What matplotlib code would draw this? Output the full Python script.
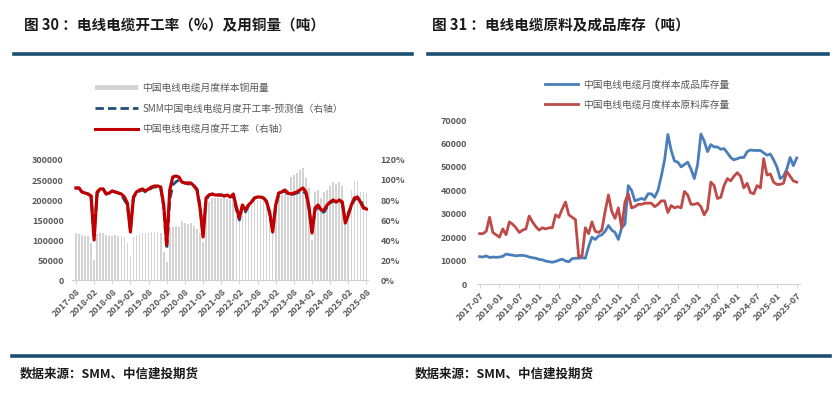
import matplotlib
matplotlib.use("Agg")
import matplotlib.pyplot as plt
from matplotlib.lines import Line2D
from matplotlib.patches import Patch
import numpy as np

plt.rcParams['font.family'] = ['Noto Sans CJK SC', 'DejaVu Sans']

# ---------------- Data: Figure 30 ----------------
months_30 = ["2017-08", "2018-02", "2018-08", "2019-02", "2019-08", "2020-02", "2020-08",
             "2021-02", "2021-08", "2022-02", "2022-08", "2023-02", "2023-08", "2024-02",
             "2024-08", "2025-02", "2025-08"]
copper_use = [117000, 115000, 112000, 110000, 110000, 93000, 50000, 115000, 118000, 118000,
              112000, 110000, 110000, 112000, 110000, 110000, 108000, 92000, 60000, 108000,
              112000, 118000, 117000, 118000, 118000, 120000, 120000, 120000, 118000, 70000,
              45000, 130000, 133000, 135000, 132000, 148000, 143000, 140000, 142000, 135000,
              128000, 118000, 95000, 185000, 195000, 205000, 205000, 205000, 205000, 205000,
              203000, 200000, 200000, 185000, 160000, 185000, 180000, 190000, 195000, 200000,
              200000, 200000, 198000, 190000, 165000, 120000, 185000, 210000, 212000, 215000,
              225000, 258000, 262000, 267000, 275000, 279000, 254000, 229000, 100000, 220000,
              225000, 205000, 220000, 225000, 235000, 245000, 240000, 245000, 235000, 140000,
              175000, 225000, 248000, 248000, 220000, 220000, 218000]
op_rate = [92, 92, 88, 87, 86, 84, 40, 88, 91, 91, 86, 87, 89, 88, 87, 86, 83, 77, 48, 83,
           88, 90, 91, 89, 91, 93, 94, 94, 93, 75, 35, 90, 103, 104, 103, 98, 97, 97, 97, 94,
           90, 72, 43, 82, 85, 86, 85, 85, 85, 84, 85, 83, 86, 73, 62, 75, 70, 75, 78, 82,
           83, 83, 82, 78, 68, 48, 75, 87, 88, 90, 87, 86, 87, 88, 90, 92, 88, 73, 47, 72,
           75, 70, 70, 75, 78, 80, 78, 80, 78, 57, 65, 75, 82, 83, 78, 72, 71]
op_rate_pred = [92, 92, 88, 87, 86, 84, 42, 87, 90, 91, 86, 87, 89, 88, 87, 85, 80, 75, 50, 82,
                87, 89, 90, 88, 90, 92, 93, 93, 92, 73, 31, 80, 95, 98, 100, 98, 97, 96, 96, 94,
                91, 74, 45, 80, 85, 86, 85, 85, 85, 84, 85, 83, 84, 70, 60, 74, 68, 74, 78, 82,
                83, 83, 82, 79, 66, 50, 73, 86, 88, 89, 86, 85, 86, 87, 88, 89, 86, 71, 48, 70,
                73, 68, 68, 73, 77, 79, 78, 79, 77, 60, 67, 74, 80, 82, 80, 73, 71]

# ---------------- Data: Figure 31 ----------------
months_31 = ["2017-07", "2018-01", "2018-07", "2019-01", "2019-07", "2020-01", "2020-07",
             "2021-01", "2021-07", "2022-01", "2022-07", "2023-01", "2023-07", "2024-01",
             "2024-07", "2025-01", "2025-07"]
finished_inv = [11700, 11500, 12000, 11300, 11500, 11400, 11500, 11800, 12800, 12500, 12300,
                12000, 12200, 12200, 12000, 11500, 11200, 11000, 10500, 10300, 9800, 9500,
                9300, 9600, 10200, 10600, 9800, 9500, 10800, 11000, 11000, 11200, 11000,
                16000, 20000, 19000, 20500, 21000, 22500, 25000, 23000, 22000, 19000, 24000,
                25500, 42000, 40000, 35500, 36000, 36500, 36000, 38500, 38500, 37000, 40000,
                46000, 53000, 63800, 57000, 52500, 52000, 50000, 51000, 52000, 49000, 45000,
                51000, 64000, 61000, 56500, 59500, 58500, 58500, 57500, 57800, 56000, 54000,
                53000, 53500, 54000, 54000, 56500, 57200, 57000, 57000, 57000, 56000, 55000,
                55500, 53000, 50000, 45000, 46000, 49000, 54000, 50500, 53800]
raw_inv = [21500, 21500, 22500, 28500, 22000, 21000, 20000, 23500, 21000, 26500, 25500, 24000,
           22000, 23000, 23500, 29000, 26500, 24500, 23000, 24000, 23500, 24000, 24000, 29500,
           28500, 32000, 35000, 29500, 28500, 27500, 11500, 12000, 24000, 21500, 26500, 22500,
           22000, 23000, 31000, 38000, 31000, 28000, 32500, 24000, 35000, 38500, 32500, 33000,
           34000, 34000, 34500, 34500, 34500, 33000, 34000, 35500, 35500, 30500, 33500, 32500,
           33000, 32500, 39500, 38000, 34000, 34000, 34500, 33000, 29500, 32000, 43500, 42000,
           36500, 37000, 42000, 45000, 44000, 46000, 47500, 46000, 41000, 43000, 39000, 38500,
           42000, 41000, 53500, 46500, 47000, 43500, 42500, 42500, 43000, 48000, 46000, 44000,
           43500]

W, H = 840, 395
fig = plt.figure(figsize=(W / 100, H / 100), dpi=100)

def fx(px):
    return px / W

def fy(py):
    return 1 - py / H

GRAY_TXT = '#595959'
NAVY = '#1b4f72'

# Titles and header lines
fig.text(fx(24), fy(25), "图 30 ：电线电缆开工率（%）及用铜量（吨）", fontsize=10.5,
         fontweight='bold', va='center', ha='left', color='#1a1a1a')
fig.text(fx(432), fy(25), "图 31 ：电线电缆原料及成品库存（吨）", fontsize=10.5,
         fontweight='bold', va='center', ha='left', color='#1a1a1a')
fig.add_artist(Line2D([fx(14), fx(412)], [fy(53.5), fy(53.5)], color=NAVY, lw=2.6))
fig.add_artist(Line2D([fx(428), fx(828)], [fy(53.5), fy(53.5)], color=NAVY, lw=2.6))
fig.add_artist(Line2D([fx(12), fx(830)], [fy(356), fy(356)], color=NAVY, lw=2.6))
fig.text(fx(20), fy(374), "数据来源：SMM、中信建投期货", fontsize=9, fontweight='bold',
         style='italic', va='center', ha='left', color='#1a1a1a')
fig.text(fx(415), fy(374), "数据来源：SMM、中信建投期货", fontsize=9, fontweight='bold',
         style='italic', va='center', ha='left', color='#1a1a1a')

def bold_ticks(ax):
    for lab in ax.get_xticklabels() + ax.get_yticklabels():
        lab.set_fontweight('bold')

# ---------------- Left chart ----------------
x30 = np.arange(len(copper_use))
ax1 = fig.add_axes([fx(72), fy(280), fx(368) - fx(72), fy(160) - fy(280)])
ax1.bar(x30, copper_use, width=0.55, color='#d3d3d3', zorder=1,
        label='中国电线电缆月度样本铜用量')
ax1.set_ylim(0, 300000)
ax1.set_xlim(-1.3, 96.5)
ax1.set_yticks(np.arange(0, 300001, 50000))
ax1.set_yticklabels([f"{v}" for v in range(0, 300001, 50000)])
ax1.set_xticks(np.arange(0, 97, 6))
ax1.set_xticklabels(months_30, rotation=45, ha='right', rotation_mode='anchor')
ax1.tick_params(axis='y', length=0, pad=6, labelsize=6.5, labelcolor=GRAY_TXT)
ax1.tick_params(axis='x', length=3, width=0.6, color='#d0d0d0', pad=2, labelsize=6.5,
                labelcolor=GRAY_TXT)
bold_ticks(ax1)
for s in ['top', 'right', 'left']:
    ax1.spines[s].set_visible(False)
ax1.spines['bottom'].set_color('#d0d0d0')
ax1.spines['bottom'].set_linewidth(0.8)

ax2 = ax1.twinx()
ax2.plot(x30, op_rate_pred, color='#1f4e79', lw=2.0, ls=(0, (3, 1.5)), zorder=3,
         label='SMM中国电线电缆月度开工率-预测值（右轴）')
ax2.plot(x30, op_rate, color='#c00000', lw=2.3, zorder=4,
         label='中国电线电缆月度开工率（右轴）')
ax2.set_ylim(0, 120)
ax2.set_yticks(np.arange(0, 121, 20))
ax2.set_yticklabels([f"{v}%" for v in range(0, 121, 20)])
ax2.tick_params(axis='y', length=0, pad=9, labelsize=6.5, labelcolor=GRAY_TXT)
bold_ticks(ax2)
for s in ['top', 'right', 'left', 'bottom']:
    ax2.spines[s].set_visible(False)

h1 = [Patch(facecolor='#d3d3d3', edgecolor='none'),
      Line2D([0], [0], color='#1f4e79', lw=2.0, ls=(0, (3, 1.5))),
      Line2D([0], [0], color='#c00000', lw=2.2)]
l1 = ['中国电线电缆月度样本铜用量', 'SMM中国电线电缆月度开工率-预测值（右轴）',
      '中国电线电缆月度开工率（右轴）']
fig.legend(h1, l1, loc='upper left', bbox_to_anchor=(fx(90), fy(78)), frameon=False,
           fontsize=7, handlelength=4.4, handleheight=0.5, labelspacing=1.1,
           handletextpad=0.5, labelcolor=GRAY_TXT, borderpad=0)

# ---------------- Right chart ----------------
x31 = np.arange(len(finished_inv))
ax3 = fig.add_axes([fx(478), fy(284), fx(800) - fx(478), fy(120) - fy(284)])
ax3.plot(x31, finished_inv, color='#4a7ebb', lw=2.0, label='中国电线电缆月度样本成品库存量')
ax3.plot(x31, raw_inv, color='#be4b48', lw=2.0, label='中国电线电缆月度样本原料库存量')
ax3.set_ylim(0, 70000)
ax3.set_xlim(-0.5, 97.0)
ax3.set_yticks(np.arange(0, 70001, 10000))
ax3.set_xticks(np.arange(0, 97, 6))
ax3.set_xticklabels(months_31, rotation=45, ha='right', rotation_mode='anchor')
ax3.tick_params(axis='y', length=0, pad=8, labelsize=6.5, labelcolor=GRAY_TXT)
ax3.tick_params(axis='x', length=3, width=0.6, color='#d0d0d0', pad=2, labelsize=6.5,
                labelcolor=GRAY_TXT)
bold_ticks(ax3)
for s in ['top', 'right', 'left']:
    ax3.spines[s].set_visible(False)
ax3.spines['bottom'].set_color('#d0d0d0')
ax3.spines['bottom'].set_linewidth(0.8)
fig.legend(*ax3.get_legend_handles_labels(), loc='upper left',
           bbox_to_anchor=(fx(540), fy(75)), frameon=False, fontsize=7, handlelength=3.4,
           labelspacing=1.0, handletextpad=0.5, labelcolor=GRAY_TXT, borderpad=0)

fig.savefig('out.png', dpi=100, facecolor='white')
